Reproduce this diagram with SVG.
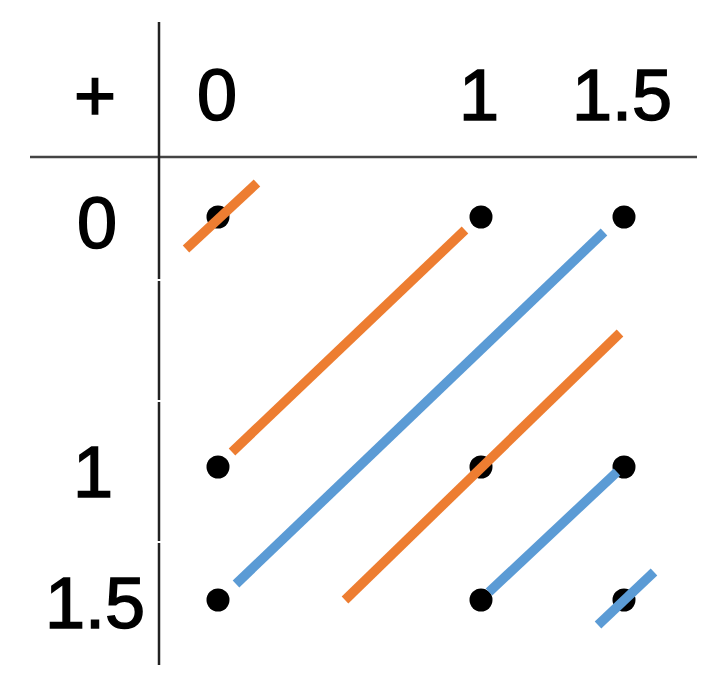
<svg xmlns="http://www.w3.org/2000/svg" width="723" height="690" viewBox="0 0 723 690">
<style>
text{font-family:"Liberation Sans",Arial,sans-serif;font-size:72px;fill:#000;stroke:#000;stroke-width:1.6;text-anchor:middle}
.ax{stroke:#222;stroke-width:2.5;fill:none}
.o{stroke:#ED7D31;stroke-width:9.5;fill:none}
.b{stroke:#5B9BD5;stroke-width:9.5;fill:none}
.dot{fill:#000}
</style>
<rect width="723" height="690" fill="#fff"/>
<g id="axes">
<line class="ax" x1="30" y1="157" x2="697" y2="157" style="stroke:#444"/>
<line class="ax" x1="159" y1="22" x2="159" y2="279"/>
<line class="ax" x1="159" y1="281" x2="159" y2="400"/>
<line class="ax" x1="159" y1="402" x2="159" y2="541"/>
<line class="ax" x1="159" y1="543" x2="159" y2="665"/>
</g>
<g id="labels">
<text x="95" y="120">+</text>
<text x="217" y="120">0</text>
<text x="479" y="120">1</text>
<text x="622" y="120">1.5</text>
<text x="97" y="248">0</text>
<text x="93" y="497">1</text>
<text x="95" y="628">1.5</text>
</g>
<g id="points">
<circle class="dot" cx="218" cy="217" r="11.5"/>
<circle class="dot" cx="481" cy="217" r="11.5"/>
<circle class="dot" cx="624" cy="217" r="11.5"/>
<circle class="dot" cx="218" cy="467" r="11.5"/>
<circle class="dot" cx="481" cy="467" r="11.5"/>
<circle class="dot" cx="624" cy="467" r="11.5"/>
<circle class="dot" cx="218" cy="600" r="11.5"/>
<circle class="dot" cx="481" cy="600" r="11.5"/>
<circle class="dot" cx="624" cy="600" r="11.5"/>
</g>
<g id="connectors">
<line class="o" x1="186" y1="249" x2="257" y2="183"/>
<line class="o" x1="232" y1="452" x2="465" y2="230"/>
<line class="b" x1="236" y1="584" x2="604" y2="232"/>
<line class="o" x1="345" y1="600" x2="620" y2="333"/>
<line class="b" x1="489" y1="592" x2="617" y2="472"/>
<line class="b" x1="598" y1="625" x2="654" y2="572"/>
</g>
</svg>
